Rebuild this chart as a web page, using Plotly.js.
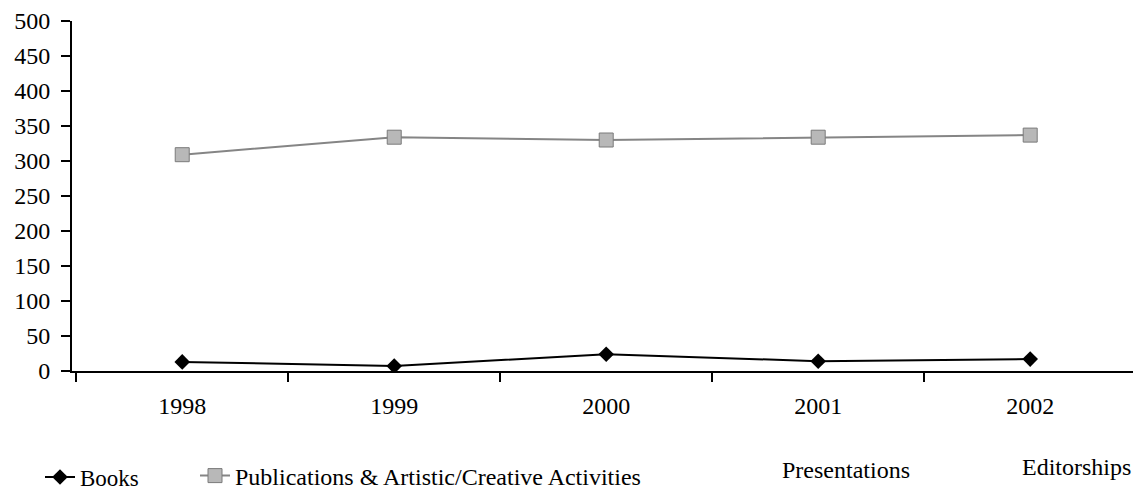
<!DOCTYPE html>
<html>
<head>
<meta charset="utf-8">
<script src="https://cdn.plot.ly/plotly-3.0.1.min.js"></script>
<style>html,body{margin:0;padding:0;background:#fff;}#chart{width:1133px;height:492px;}</style>
</head>
<body>
<div id="chart"></div>
<script>
const years = ['1998', '1999', '2000', '2001', '2002'];
const books = [13, 7, 24, 14, 17];
const publications = [309, 334, 330, 334, 337];
// not plotted in the reference (legend entries only)
const presentations = [null, null, null, null, null];
const editorships = [null, null, null, null, null];
const yTicks = [0, 50, 100, 150, 200, 250, 300, 350, 400, 450, 500];

const FONT = 'Liberation Serif';
const W = 1133, H = 492;

const traces = [
  {
    x: years, y: books, name: 'Books', type: 'scatter', mode: 'lines+markers',
    line: {color: '#000', width: 2},
    marker: {symbol: 'diamond', size: 12, color: '#000'},
    legend: 'legend'
  },
  {
    x: years, y: publications, name: 'Publications &amp; Artistic/Creative Activities',
    type: 'scatter', mode: 'lines+markers',
    line: {color: '#858585', width: 2},
    marker: {symbol: 'square', size: 14, color: '#b8b8b8', line: {color: '#7a7a7a', width: 1}},
    legend: 'legend2'
  },
  {
    x: years, y: presentations, name: 'Presentations', type: 'scatter', mode: 'lines',
    line: {color: 'rgba(255,255,255,0)', width: 2}, legend: 'legend3'
  },
  {
    x: years, y: editorships, name: 'Editorships', type: 'scatter', mode: 'lines',
    line: {color: 'rgba(255,255,255,0)', width: 2}, legend: 'legend4'
  }
];

function leg(px, py, fs) {
  return {
    x: px / W, y: 1 - py / H, xref: 'container', yref: 'container',
    yanchor: 'middle', xanchor: 'left',
    orientation: 'h', font: {family: FONT, size: fs, color: '#000'},
    bgcolor: 'rgba(0,0,0,0)', borderwidth: 0
  };
}

const layout = {
  width: W, height: H,
  margin: {l: 72, r: 0, t: 21, b: 121},
  paper_bgcolor: '#fff', plot_bgcolor: '#fff',
  font: {family: FONT, size: 24, color: '#000'},
  showlegend: true,
  legend: leg(40, 477, 23),
  legend2: leg(195, 476, 24),
  legend3: leg(742, 469, 24),
  legend4: leg(982, 466, 24),
  xaxis: {
    type: 'category', categoryorder: 'array', categoryarray: years,
    range: [-0.52, 4.485],
    showgrid: false, zeroline: false,
    showline: true, linecolor: '#000', linewidth: 2,
    ticks: 'outside', tickson: 'boundaries', ticklen: 9, tickwidth: 1.5, tickcolor: '#000',
    ticklabelstandoff: 12,
    tickfont: {family: FONT, size: 24, color: '#000'},
    fixedrange: true
  },
  yaxis: {
    range: [0, 500], tickvals: yTicks, ticktext: yTicks.map(String),
    showgrid: false, zeroline: false,
    showline: true, linecolor: '#000', linewidth: 2,
    ticks: 'outside', ticklen: 9, tickwidth: 2, tickcolor: '#000',
    ticklabelstandoff: 6,
    tickfont: {family: FONT, size: 24, color: '#000'},
    fixedrange: true
  }
};

Plotly.newPlot('chart', traces, layout, {displayModeBar: false, staticPlot: true});
</script>
</body>
</html>
